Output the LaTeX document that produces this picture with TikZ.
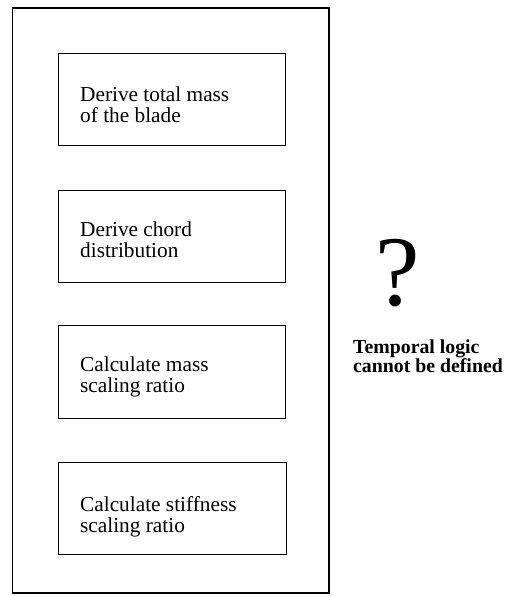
\documentclass[tikz,border=0pt]{standalone}
\usepackage{fontspec}
\setmainfont{Liberation Serif}
\begin{document}
\begin{tikzpicture}[x=1pt,y=-1pt,
  frame/.style={draw=black,line width=1.2pt},
  stepbox/.style={draw=black,line width=1.2pt},
  boxtext/.style={anchor=base west,inner sep=0pt,align=left,font=\fontsize{21.3}{21}\selectfont},
  note/.style={anchor=base west,inner sep=0pt,align=left,font=\fontsize{19.8}{19}\selectfont\bfseries}]
\useasboundingbox (0,0) rectangle (506,597);
\draw[frame] (12.5,8) rectangle (329,593);
\node[stepbox,minimum width=227pt,minimum height=92pt,anchor=north west] (b1) at (57.5,53) {};
\node[stepbox,minimum width=227pt,minimum height=92pt,anchor=north west] (b2) at (57.5,190) {};
\node[stepbox,minimum width=227pt,minimum height=93pt,anchor=north west] (b3) at (57.5,325) {};
\node[stepbox,minimum width=228pt,minimum height=92pt,anchor=north west] (b4) at (57.5,462) {};
\node[boxtext] (t1) at (80,122.5) {Derive total mass\\of the blade};
\node[boxtext] (t2) at (80,257) {Derive chord\\distribution};
\node[boxtext] (t3) at (80,392) {Calculate mass\\scaling ratio};
\node[boxtext] (t4) at (80,532) {Calculate stiffness\\scaling ratio};
\node[anchor=base,inner sep=0pt,text depth=0pt,font=\fontsize{100}{100}\selectfont] (q) at (398,305) {?};
\node[note] (n) at (353,372) {Temporal logic\\cannot be defined};
\end{tikzpicture}
\end{document}
